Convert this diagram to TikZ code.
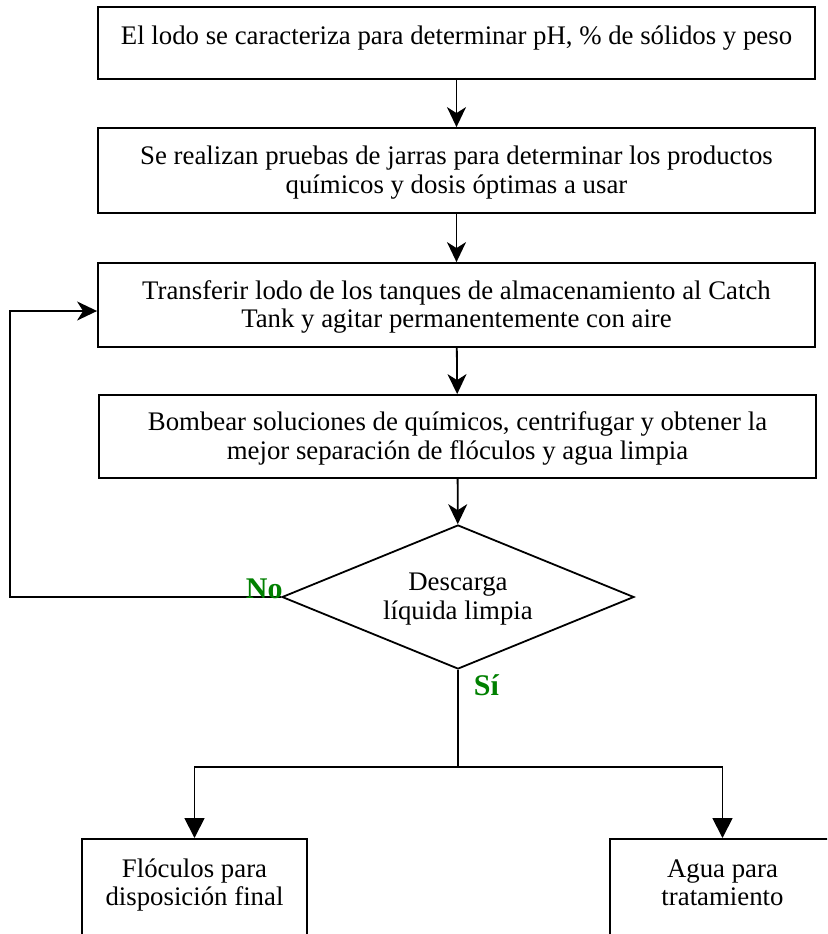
\documentclass[tikz,border=0pt]{standalone}
\usepackage{fontspec}
\setmainfont{Liberation Serif}
\usetikzlibrary{shapes.geometric,arrows.meta}
\definecolor{labgreen}{RGB}{0,128,0}
\begin{document}
\begin{tikzpicture}[x=0.5pt,y=-0.5pt,
  font=\fontsize{13.4pt}{14.3pt}\selectfont,
  line width=0.9pt,
  stepbox/.style={draw, rectangle, align=center, minimum width=358.5pt, inner sep=0pt, text depth=0.8pt},
  decision/.style={draw, diamond, align=center, shape aspect=2.444, minimum width=176pt,
    minimum height=72pt, inner sep=0pt, text depth=0.8pt},
  endbox/.style={draw, rectangle, align=center, anchor=north, minimum width=112.5pt,
    minimum height=60pt, inner sep=0pt, text height=9.15pt, text depth=2.15pt},
  flow/.style={-{Stealth[length=10pt,width=9.5pt,inset=3pt]}},
  branch/.style={-{Triangle[length=10pt,width=10pt]}},
  answer/.style={font=\fontsize{15pt}{17pt}\selectfont\bfseries, text=labgreen, inner sep=0pt}
]
\path[use as bounding box, clip] (0,0) rectangle (827,934);

% process steps
\node[stepbox, minimum height=35.75pt, text height=9.15pt, text depth=8.15pt] (b1) at (456.5,43)
  {El lodo se caracteriza para determinar pH, \% de sólidos y peso};
\node[stepbox, minimum height=42.5pt] (b2) at (456.5,170.5)
  {Se realizan pruebas de jarras para determinar los productos\\químicos y dosis óptimas a usar};
\node[stepbox, minimum height=42pt] (b3) at (456.5,305)
  {Transferir lodo de los tanques de almacenamiento al Catch\\Tank y agitar permanentemente con aire};
\node[stepbox, minimum height=41.5pt] (b4) at (457.5,436.5)
  {Bombear soluciones de químicos, centrifugar y obtener la\\mejor separación de flóculos y agua limpia};

% decision
\node[decision] (dec) at (458,597) {Descarga\\líquida limpia};

% outcomes
\node[endbox] (floc) at (194.5,838) {Flóculos para\\disposición final};
\node[endbox] (agua) at (722.5,838) {Agua para\\tratamiento};

% main flow
\draw[flow] (b1) -- (b2);
\draw[flow] (b2) -- (b3);
\draw[flow] (b3) -- (b4);
\draw[flow] (b4) -- (dec);

% loop back when the discharge is not clean
\coordinate (loop) at (10,597);
\draw[flow] (dec.west) -- (loop) |- ([yshift=-3pt]b3.west);
\node[answer, anchor=base west] (no) at (245,598) {No};

% split when the discharge is clean
\coordinate (split) at (458,767);
\draw (dec.south) -- (split);
\draw[branch] (split) -| (floc.north);
\draw[branch] (split) -| (agua.north);
\node[answer, anchor=base west] (si) at (473,695) {Sí};
\end{tikzpicture}
\end{document}
